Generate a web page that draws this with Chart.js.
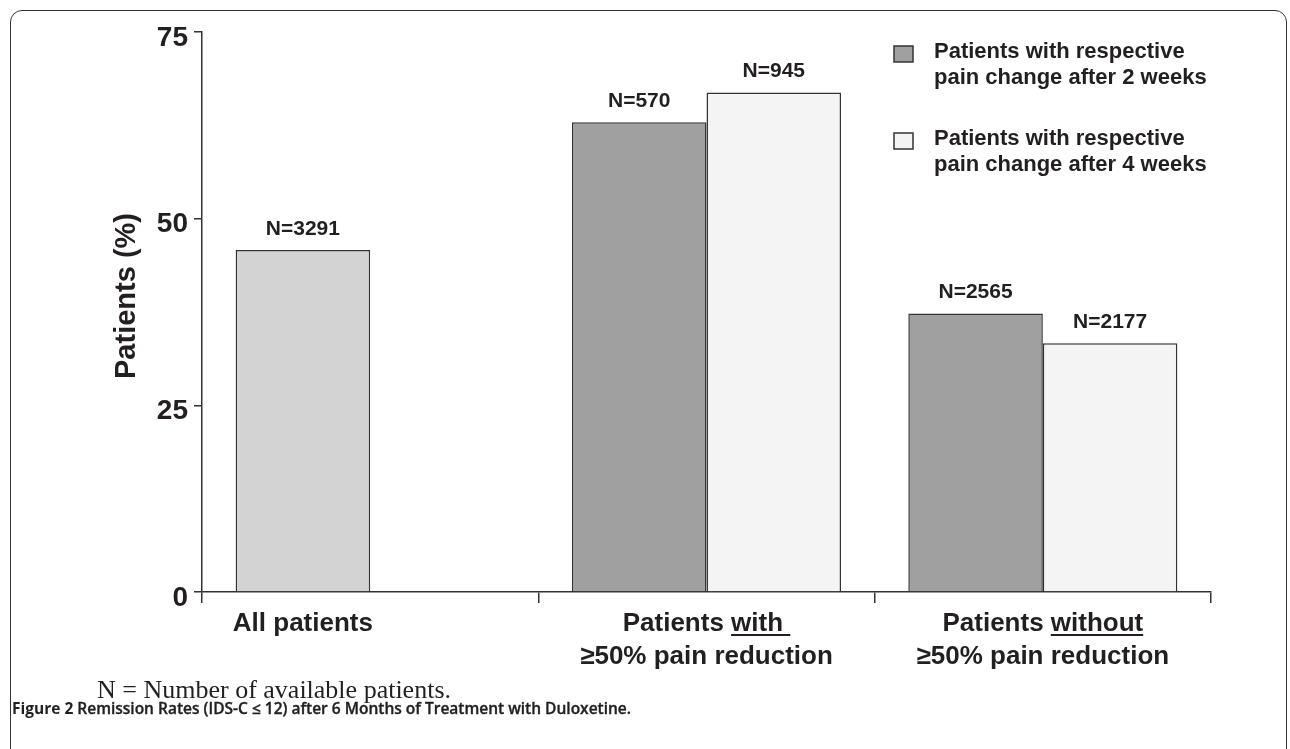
<!DOCTYPE html>
<html>
<head>
<meta charset="utf-8">
<script src="https://cdn.jsdelivr.net/npm/chart.js@4.4.1/dist/chart.umd.min.js"></script>
<style>
  html, body { margin: 0; padding: 0; background: #fff; }
  body { width: 1290px; height: 749px; position: relative; overflow: hidden; }
  #frame { position: absolute; left: 10px; top: 10px; width: 1277px; height: 800px; border: 1.5px solid #333; border-radius: 12px; box-sizing: border-box; }
  #bars { position: absolute; left: 0; top: 0; }
  #note { position: absolute; left: 97px; top: 677px; font: 26px/26px "Liberation Serif", "Times New Roman", serif; color: #231f20; white-space: nowrap; }
  #caption { position: absolute; left: 12px; top: 698px; font: 600 15.5px/20px "Open Sans", sans-serif; color: #231f20; white-space: nowrap; -webkit-text-stroke: 0.35px #231f20; }
  #caption b { font-weight: 700; -webkit-text-stroke: 0; }
</style>
</head>
<body>
<div id="frame"></div>
<canvas id="bars" width="1290" height="749"></canvas>
<div id="note">N = Number of available patients.</div>
<div id="caption"><b>Figure 2</b> Remission Rates (IDS-C ≤ 12) after 6 Months of Treatment with Duloxetine.</div>
<script>
const categories = ['All patients', 'Patients with ≥50% pain reduction', 'Patients without ≥50% pain reduction'];
const week2Values = [45.8, 62.9, 37.3];
const week4Values = [null, 66.9, 33.3];
const week2Counts = ['N=3291', 'N=570', 'N=2565'];
const week4Counts = [null, 'N=945', 'N=2177'];
const yTicks = [0, 25, 50, 75];
const legendLabels = [
  ['Patients with respective', 'pain change after 2 weeks'],
  ['Patients with respective', 'pain change after 4 weeks']
];
// label lines per category, pieces are [text, underlined]
const categoryLines = [
  [[['All patients', false]]],
  [[['Patients ', false], ['with ', true]], [['≥50% pain reduction', false]]],
  [[['Patients ', false], ['without', true]], [['≥50% pain reduction', false]]]
];

const ink = '#231f20';
const line = '#333';
const allColor = '#d3d3d3';
const darkColor = '#a0a0a0';
const lightColor = '#f4f4f4';
const sans = '"Liberation Sans", Arial, sans-serif';

const annotate = {
  id: 'annotate',
  afterDatasetsDraw(chart) {
    const ctx = chart.ctx;
    const area = chart.chartArea;
    ctx.save();
    ctx.fillStyle = ink;

    // N= labels over bars
    ctx.textAlign = 'center';
    ctx.textBaseline = 'alphabetic';
    ctx.font = 'bold 21px ' + sans;
    [week2Counts, week4Counts].forEach((counts, d) => {
      chart.getDatasetMeta(d).data.forEach((bar, i) => {
        if (counts[i]) ctx.fillText(counts[i], bar.x, bar.y - 15);
      });
    });

    // category labels under the axis
    ctx.font = 'bold 26px ' + sans;
    ctx.textAlign = 'left';
    categoryLines.forEach((lines, i) => {
      const cx = week4Values[i] == null ? chart.getDatasetMeta(0).data[i].x : chart.scales.x.getPixelForValue(i);
      lines.forEach((parts, j) => {
        const y = area.bottom + 39 + j * 33;
        const total = parts.reduce((w, p) => w + ctx.measureText(p[0]).width, 0);
        let px = cx - total / 2;
        parts.forEach(([txt, under]) => {
          const w = ctx.measureText(txt).width;
          ctx.fillText(txt, px, y);
          if (under) ctx.fillRect(px, y + 3, w, 2);
          px += w;
        });
      });
    });

    // y axis title
    ctx.save();
    ctx.translate(127, 296);
    ctx.rotate(-Math.PI / 2);
    ctx.textAlign = 'center';
    ctx.textBaseline = 'middle';
    ctx.font = 'bold 29px ' + sans;
    ctx.fillText('Patients (%)', 0, 0);
    ctx.restore();

    // legend
    ctx.font = 'bold 22px ' + sans;
    ctx.textAlign = 'left';
    ctx.lineWidth = 1.5;
    ctx.strokeStyle = line;
    [darkColor, lightColor].forEach((c, k) => {
      const top = 46 + k * 87;
      ctx.fillStyle = c;
      ctx.fillRect(894, top, 19, 16);
      ctx.strokeRect(894, top, 19, 16);
      ctx.fillStyle = ink;
      legendLabels[k].forEach((t, j) => ctx.fillText(t, 934, top + 12 + j * 26));
    });
    ctx.restore();
  }
};

new Chart(document.getElementById('bars').getContext('2d'), {
  type: 'bar',
  data: {
    labels: categories,
    datasets: [{
      data: week2Values,
      backgroundColor: [allColor, darkColor, darkColor],
      borderColor: line,
      borderWidth: 1.5
    }, {
      data: week4Values,
      backgroundColor: lightColor,
      borderColor: line,
      borderWidth: 1.5
    }]
  },
  options: {
    responsive: false,
    animation: false,
    layout: { padding: { left: 0, top: 32, right: 79, bottom: 0 } },
    datasets: { bar: { categoryPercentage: 0.8, barPercentage: 1 } },
    plugins: { legend: { display: false }, tooltip: { enabled: false } },
    scales: {
      x: {
        grid: { drawOnChartArea: false, drawTicks: true, tickLength: 11, color: line, lineWidth: 1.5, offset: true },
        border: { color: line, width: 1.5 },
        ticks: { display: false },
        afterFit: s => { s.height = 157; }
      },
      y: {
        min: 0,
        max: 75,
        grid: { drawOnChartArea: false, tickLength: 8, color: line, lineWidth: 1.5 },
        border: { color: line, width: 1.5 },
        ticks: { font: { family: sans, size: 28, weight: 'bold' }, color: ink, padding: 6, labelOffset: 6 },
        afterBuildTicks: s => { s.ticks = yTicks.map(v => ({ value: v })); },
        afterFit: s => { s.width = 202; }
      }
    }
  },
  plugins: [annotate]
});
</script>
</body>
</html>
